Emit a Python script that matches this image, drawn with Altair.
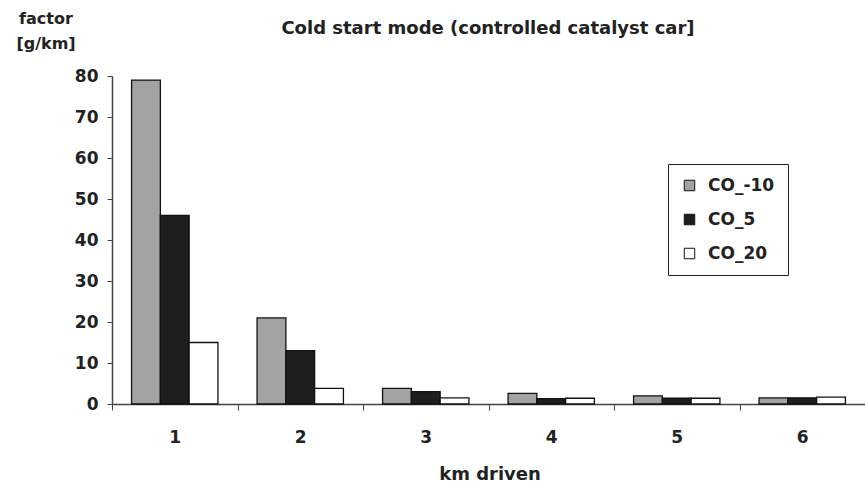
import altair as alt
import pandas as pd

km = ["1", "2", "3", "4", "5", "6"]
series = ["CO_-10", "CO_5", "CO_20"]
co_m10 = [79, 21, 3.8, 2.6, 2.0, 1.5]
co_5 = [46, 13, 3.0, 1.3, 1.4, 1.5]
co_20 = [15, 3.8, 1.5, 1.4, 1.4, 1.7]
title_text = "Cold start mode (controlled catalyst car]"
y_title_text = "factor\n[g/km]"
x_title_text = "km driven"

rows = []
for i, k in enumerate(km):
    for s, vals in zip(series, [co_m10, co_5, co_20]):
        rows.append({"km": k, "series": s, "value": vals[i]})
df = pd.DataFrame(rows)

FONT = "DejaVu Sans"
TXT = "#222"

bars = alt.Chart(df).mark_bar(stroke="#111", strokeWidth=1.3).encode(
    x=alt.X("km:N", sort=km,
            scale=alt.Scale(paddingInner=0, paddingOuter=0),
            axis=alt.Axis(title=None, labelAngle=0, tickBand="extent",
                          tickSize=6, labelPadding=19, labelFontSize=17,
                          labelFontWeight="bold", labelFont=FONT, labelColor=TXT,
                          domainColor="#444", tickColor="#444", domainWidth=1.5)),
    xOffset=alt.XOffset("series:N", sort=series,
                        scale=alt.Scale(paddingOuter=0.68, paddingInner=0)),
    y=alt.Y("value:Q", scale=alt.Scale(domain=[0, 80]),
            axis=alt.Axis(values=[0, 10, 20, 30, 40, 50, 60, 70, 80], grid=False,
                          tickSize=5, labelPadding=9, labelFontSize=17,
                          labelFontWeight="bold", labelFont=FONT, labelColor=TXT,
                          domainColor="#444", tickColor="#444", domainWidth=1.5,
                          title=None)),
    fill=alt.Fill("series:N", sort=series,
                  scale=alt.Scale(domain=series, range=["#a3a3a3", "#1e1e1e", "#ffffff"]),
                  legend=alt.Legend(title=None, orient="none", legendX=556, legendY=88,
                                    symbolType="square", symbolSize=110,
                                    symbolStrokeColor="#111", symbolStrokeWidth=1,
                                    labelFont=FONT, labelFontSize=17,
                                    labelFontWeight="bold", labelColor=TXT,
                                    labelOffset=10,
                                    rowPadding=16, padding=13,
                                    strokeColor="#222", fillColor="white",
                                    labelLimit=200)),
)

one = pd.DataFrame({"k": [0]})

title = alt.Chart(one).mark_text(
    text=title_text, font=FONT, fontSize=18, fontWeight="bold", color=TXT,
    align="center", baseline="middle"
).encode(x=alt.value(376), y=alt.value(-47))

ytitle = alt.Chart(one).mark_text(
    text=y_title_text, lineBreak="\n", lineHeight=25, font=FONT, fontSize=16,
    fontWeight="bold", color=TXT, align="center", baseline="middle"
).encode(x=alt.value(-66), y=alt.value(-57))

xtitle = alt.Chart(one).mark_text(
    text=x_title_text, font=FONT, fontSize=18, fontWeight="bold", color=TXT,
    align="center", baseline="middle"
).encode(x=alt.value(378), y=alt.value(399))

chart = alt.layer(bars, title, ytitle, xtitle).properties(
    width=753, height=328, background="white",
    autosize=alt.AutoSizeParams(type="none"),
    padding={"left": 112, "top": 76, "right": 0, "bottom": 84},
).configure_view(stroke=None)

chart.save("out.html", embed_options={"renderer": "svg", "actions": False})
